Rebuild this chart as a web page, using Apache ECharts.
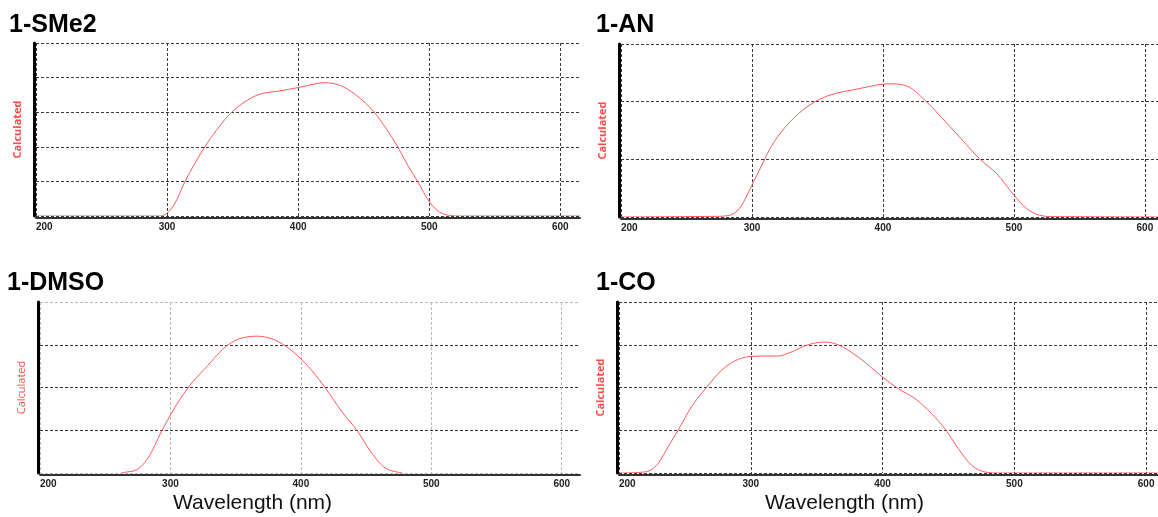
<!DOCTYPE html>
<html>
<head>
<meta charset="utf-8">
<script src="https://cdn.jsdelivr.net/npm/echarts@6/dist/echarts.min.js"></script>
<style>
html,body{margin:0;padding:0;background:#fff;}
#chart{width:1158px;height:517px;}
</style>
</head>
<body>
<div id="chart"></div>
<script>
// ---- data (wavelength in nm, calculated intensity in arbitrary units) ----
const panelTitles = ['1-SMe2', '1-AN', '1-DMSO', '1-CO'];
const xTickLabels = ['200', '300', '400', '500', '600'];

const sme2X = [200, 294.4, 300, 305.8, 313.5, 321.1, 328.7, 337.6, 349.0, 357.9, 370.6, 385.9, 399.8, 411.3, 420.1, 431.6, 444.3, 458.2, 467.1, 476.0, 483.6, 491.3, 500.2, 507.8, 515.4, 523.0, 615];
const sme2Y = [0, 0, 0.017, 0.071, 0.197, 0.303, 0.399, 0.495, 0.598, 0.653, 0.704, 0.723, 0.742, 0.761, 0.771, 0.756, 0.698, 0.598, 0.505, 0.399, 0.293, 0.197, 0.081, 0.023, 0.004, 0, 0];

const anX = [200, 275.0, 282.7, 290.3, 300, 306.9, 313.3, 326.0, 338.8, 351.5, 364.3, 377.0, 389.8, 400.0, 407.7, 417.9, 433.2, 448.5, 463.8, 474.0, 486.7, 500.0, 509.7, 519.9, 527.6, 610];
const anY = [0, 0.0035, 0.0087, 0.0437, 0.166, 0.262, 0.350, 0.472, 0.556, 0.612, 0.644, 0.661, 0.679, 0.691, 0.693, 0.682, 0.600, 0.490, 0.376, 0.301, 0.227, 0.114, 0.044, 0.009, 0.002, 0];

const dmsoX = [262.4, 264.9, 272.6, 282.8, 293.1, 300, 313.6, 326.4, 344.3, 354.5, 366.1, 377.6, 399.9, 418.6, 431.4, 442.9, 454.4, 464.7, 474.9, 477.5];
const dmsoY = [0, 0.004, 0.014, 0.087, 0.242, 0.339, 0.5, 0.61, 0.75, 0.789, 0.80, 0.785, 0.669, 0.5, 0.359, 0.25, 0.116, 0.029, 0.004, 0];

const coX = [200, 204.3, 219.5, 229.6, 237.2, 244.8, 254.9, 266.3, 277.7, 287.8, 300, 310.6, 320.8, 330.9, 342.3, 356.2, 366.3, 381.5, 400, 411.9, 424.6, 437.2, 447.3, 457.5, 467.6, 477.7, 485.3, 609];
const coY = [0, 0, 0.006, 0.055, 0.152, 0.25, 0.386, 0.499, 0.600, 0.655, 0.682, 0.684, 0.684, 0.708, 0.747, 0.766, 0.750, 0.678, 0.561, 0.493, 0.435, 0.347, 0.259, 0.142, 0.045, 0.006, 0, 0];

const xMaxes = [615, 610, 614, 609];
const yMaxes = [1, 0.9, 1, 1];
const yIntervals = [0.2, 0.3, 0.25, 0.25];
const xAxisTitle = 'Wavelength (nm)';
const yAxisTitle = 'Calculated';

// ---- chart ----
const zip = (xs, ys) => xs.map((x, i) => [x, ys[i]]);
const seriesData = [zip(sme2X, sme2Y), zip(anX, anY), zip(dmsoX, dmsoY), zip(coX, coY)];

const grids = [
  {left: 36, top: 43, width: 544, height: 173},
  {left: 621, top: 44, width: 537, height: 173},
  {left: 40, top: 302, width: 540, height: 171},
  {left: 619, top: 302, width: 539, height: 171}
];

const titlePos = [
  {left: 9, top: 13}, {left: 596, top: 13}, {left: 7, top: 271}, {left: 596, top: 271}
];

const dark = '#3a3a3a';
const light = '#b8b8b8';

const xAxes = grids.map((g, i) => ({
  type: 'value', gridIndex: i, min: 200, max: xMaxes[i], interval: 100,
  offset: 2,
  axisLine: {show: true, onZero: false, lineStyle: {color: '#333', width: 2}},
  axisTick: {show: false},
  axisLabel: {
    show: true, margin: 4, color: '#222', fontSize: 10, fontWeight: 'bold',
    fontFamily: 'Liberation Sans, Arial, sans-serif', showMaxLabel: false, alignMinLabel: 'left',
    formatter: v => xTickLabels[xTickLabels.indexOf(String(v))] || ''
  },
  splitLine: {
    show: true, showMaxLine: false,
    lineStyle: {color: i === 2 ? light : dark, type: [3, 2], width: 1}
  }
}));

const yAxes = grids.map((g, i) => ({
  type: 'value', gridIndex: i, min: 0, max: yMaxes[i], interval: yIntervals[i],
  offset: 2,
  name: yAxisTitle, nameLocation: 'middle', nameGap: 11, nameRotate: 90,
  nameTextStyle: {color: '#ff4d4d', fontSize: 11, fontWeight: i === 2 ? 'normal' : 'bold', fontFamily: 'Open Sans, sans-serif'},
  axisLine: {show: true, lineStyle: {color: '#000', width: 3}},
  axisTick: {show: false},
  axisLabel: {show: false},
  splitLine: {
    show: true,
    lineStyle: {
      color: i === 2 ? [light, '#333', '#333', '#333', light] : dark,
      type: [3, 2], width: 1
    }
  }
}));

// smooth (monotone cubic) path through the library-projected data points
function smoothPath(pts) {
  const n = pts.length;
  const m = new Array(n).fill(0);
  const s = [];
  for (let k = 0; k < n - 1; k++) {
    const h = pts[k + 1][0] - pts[k][0];
    s.push(h !== 0 ? (pts[k + 1][1] - pts[k][1]) / h : 0);
  }
  for (let k = 1; k < n - 1; k++) {
    const h0 = pts[k][0] - pts[k - 1][0], h1 = pts[k + 1][0] - pts[k][0];
    const s0 = s[k - 1], s1 = s[k];
    const p = (s0 * h1 + s1 * h0) / (h0 + h1);
    m[k] = (Math.sign(s0) + Math.sign(s1)) * Math.min(Math.abs(s0), Math.abs(s1), 0.5 * Math.abs(p)) || 0;
  }
  m[0] = s[0]; m[n - 1] = s[n - 2];
  let d = 'M' + pts[0][0] + ' ' + pts[0][1];
  for (let k = 0; k < n - 1; k++) {
    const [x0, y0] = pts[k], [x1, y1] = pts[k + 1];
    const h = (x1 - x0) / 3;
    d += ' C' + (x0 + h) + ' ' + (y0 + m[k] * h) + ' ' + (x1 - h) + ' ' + (y1 - m[k + 1] * h) + ' ' + x1 + ' ' + y1;
  }
  return d;
}

const series = seriesData.map((d, i) => ({
  type: 'custom', xAxisIndex: i, yAxisIndex: i, data: d, silent: true, clip: true,
  encode: {x: 0, y: 1},
  renderItem: (params, api) => {
    if (params.dataIndex !== 0) return null;
    const pts = d.map(p => api.coord(p));
    return {
      type: 'path',
      shape: {pathData: smoothPath(pts)},
      style: {stroke: '#ff5a5a', fill: null, lineWidth: 1}
    };
  }
}));

const titles = panelTitles.map((t, i) => ({
  text: t, left: titlePos[i].left, top: titlePos[i].top, padding: 0,
  textStyle: {fontSize: 25, fontWeight: 'bold', color: '#000', fontFamily: 'Liberation Sans, Arial, sans-serif'}
}));

const chart = echarts.init(document.getElementById('chart'), null, {renderer: 'canvas'});
chart.setOption({
  animation: false,
  backgroundColor: '#fff',
  title: titles,
  grid: grids,
  xAxis: xAxes,
  yAxis: yAxes,
  series: series,
  graphic: [
    {type: 'text', left: 173, top: 493, style: {text: xAxisTitle, fontSize: 21, fill: '#111', fontFamily: 'Liberation Sans, Arial, sans-serif'}},
    {type: 'text', left: 765, top: 493, style: {text: xAxisTitle, fontSize: 21, fill: '#111', fontFamily: 'Liberation Sans, Arial, sans-serif'}}
  ]
});
</script>
</body>
</html>
